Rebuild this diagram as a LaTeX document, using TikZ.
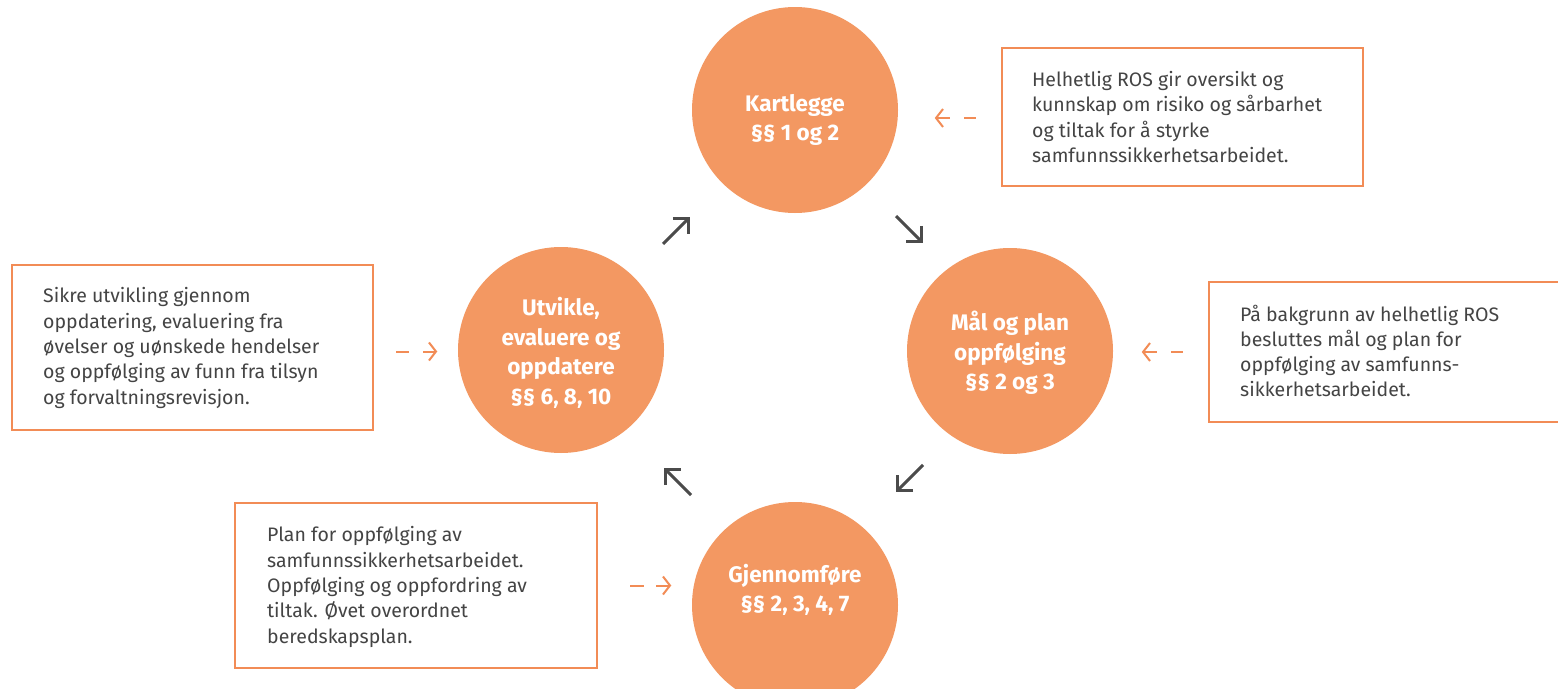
\documentclass[tikz,border=0pt]{standalone}
\usepackage{fontspec}
\setmainfont{Fira Sans}
\usetikzlibrary{arrows.meta,calc}
\definecolor{circ}{RGB}{243,152,98}
\definecolor{obord}{RGB}{242,140,86}
\definecolor{txt}{RGB}{68,68,68}
\definecolor{garr}{RGB}{75,75,75}
\tikzset{
  stage/.style={circle, fill=circ, minimum size=206pt, inner sep=0pt},
  stagetext/.style={text=white, font=\fontsize{22.5}{29.5}\selectfont\bfseries, align=center, inner sep=0pt},
  infobox/.style={draw=obord, line width=2.5pt, inner sep=0pt},
  infotext/.style={text=txt, font=\fontsize{19.5}{25.3}\selectfont, align=left, anchor=west, inner sep=0pt},
  flow/.style={draw=garr, line width=3pt, -{Straight Barb[length=11pt,width=22pt]}},
  hintdash/.style={draw=obord, line width=2pt},
  hintarrow/.style={draw=obord, line width=2pt, -{Straight Barb[length=7pt,width=18pt]}},
}
\begin{document}
\begin{tikzpicture}[x=1pt,y=-1pt]
\clip (0,0) rectangle (1558,688);
\fill[white] (0,0) rectangle (1558,688);

% stages
\node[stage] (K) at (795,110) {};
\node[stage] (M) at (1010,351) {};
\node[stage] (U) at (561,350) {};
\node[stage] (G) at (795,605) {};
\node[stagetext] (Kt) at (795,120) {Kartlegge\\§§ 1 og 2};
\node[stagetext] (Mt) at (1010,353) {Mål og plan\\oppfølging\\§§ 2 og 3};
\node[stagetext] (Ut) at (561,353) {Utvikle,\\evaluere og\\oppdatere\\§§ 6, 8, 10};
\node[stagetext] (Gt) at (795,590) {Gjennomføre\\§§ 2, 3, 4, 7};

% info boxes
\node[infobox, minimum width=361pt, minimum height=138pt] (B1) at (1182.5,117) {};
\node[infobox, minimum width=366pt, minimum height=140pt] (B2) at (1392,352) {};
\node[infobox, minimum width=361pt, minimum height=165pt] (B3) at (192.5,347.5) {};
\node[infobox, minimum width=362pt, minimum height=165pt] (B4) at (416,585.5) {};

\node[infotext] (T1) at (1032,117) {Helhetlig ROS gir oversikt og\\kunnskap om risiko og sårbarhet\\og tiltak for å styrke\\samfunnssikkerhetsarbeidet.};
\node[infotext] (T2) at (1240,351) {På bakgrunn av helhetlig ROS\\besluttes mål og plan for\\oppfølging av samfunns-\\sikkerhetsarbeidet.};
\node[infotext] (T3) at (43,348) {Sikre utvikling gjennom\\oppdatering, evaluering fra\\øvelser og uønskede hendelser\\og oppfølging av funn fra tilsyn\\og forvaltningsrevisjon.};
\node[infotext] (T4) at (267,587) {Plan for oppfølging av\\samfunnssikkerhetsarbeidet.\\Oppfølging og oppfordring av\\tiltak. Øvet overordnet\\beredskapsplan.};

% cycle arrows
\coordinate (a1s) at (663,244); \coordinate (a1e) at (690,217);
\coordinate (a2s) at (896,216); \coordinate (a2e) at (923,243);
\coordinate (a3s) at (923,465); \coordinate (a3e) at (896,492);
\coordinate (a4s) at (691,495); \coordinate (a4e) at (664,468);
\draw[flow] (a1s) -- (a1e);
\draw[flow] (a2s) -- (a2e);
\draw[flow] (a3s) -- (a3e);
\draw[flow] (a4s) -- (a4e);

% hint arrows
\draw[hintdash] ($(B1.west)+(-25,1)$) -- ($(B1.west)+(-37,1)$);
\draw[hintarrow] ($(B1.west)+(-51,1)$) -- ($(B1.west)+(-66,1)$);
\draw[hintdash] ($(B2.west)+(-25,0)$) -- ($(B2.west)+(-37,0)$);
\draw[hintarrow] ($(B2.west)+(-51,0)$) -- ($(B2.west)+(-66,0)$);
\draw[hintdash] ($(B3.east)+(22,4)$) -- ($(B3.east)+(35,4)$);
\draw[hintarrow] ($(B3.east)+(49,4)$) -- ($(B3.east)+(63,4)$);
\draw[hintdash] ($(B4.east)+(32,0)$) -- ($(B4.east)+(46,0)$);
\draw[hintarrow] ($(B4.east)+(58,0)$) -- ($(B4.east)+(73,0)$);
\end{tikzpicture}
\end{document}
